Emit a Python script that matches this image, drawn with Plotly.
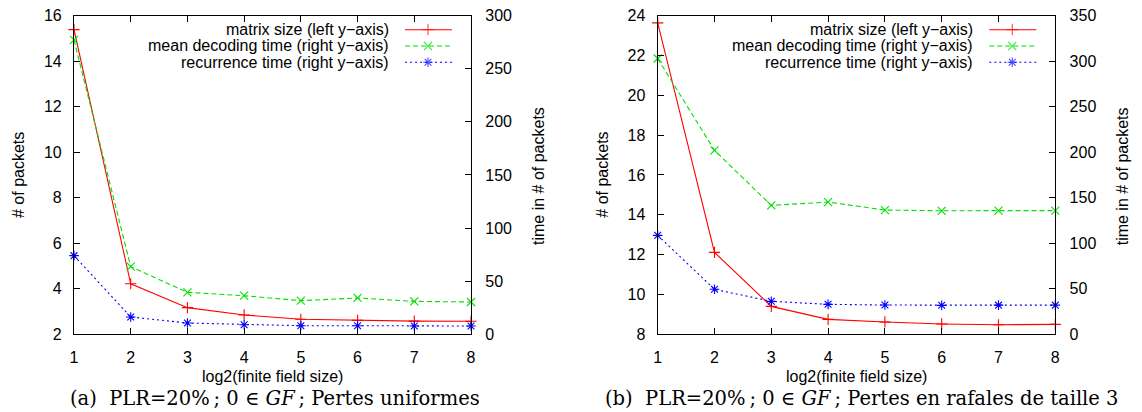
import plotly.graph_objects as go

# ---------------- data ----------------
x_vals = [1, 2, 3, 4, 5, 6, 7, 8]
x_ticks = [1, 2, 3, 4, 5, 6, 7, 8]

# panel (a): uniform losses
a_matrix = [15.38, 4.22, 3.17, 2.85, 2.66, 2.61, 2.58, 2.57]        # left axis
a_decoding = [277.0, 63.6, 39.5, 36.3, 31.6, 34.2, 31.0, 30.4]      # right axis
a_recurrence = [74.0, 16.3, 10.6, 9.0, 8.1, 8.1, 7.8, 7.8]          # right axis

# panel (b): burst losses of size 3
b_matrix = [23.63, 12.11, 9.40, 8.75, 8.62, 8.52, 8.48, 8.50]       # left axis
b_decoding = [302.8, 201.9, 141.5, 145.2, 136.4, 135.6, 135.8, 135.8]
b_recurrence = [108.6, 49.4, 36.2, 32.9, 32.1, 31.8, 32.0, 32.0]

series_names = ["matrix size (left y\u2212axis)",
                "mean decoding time (right y\u2212axis)",
                "recurrence time (right y\u2212axis)"]

captions = ["(a)\u00a0\u00a0PLR=20%\u2009;\u00a00 \u2208 <i>GF</i>\u2009; Pertes uniformes",
            "(b)\u00a0\u00a0PLR=20%\u2009;\u00a00 \u2208 <i>GF</i>\u2009; Pertes en rafales de taille 3"]

# ---------------- style ----------------
W, H = 1142, 412
RED, GREEN, BLUE = "#ff0000", "#00e000", "#0000ff"
styles = [
    dict(color=RED, dash="solid", symbol="cross-thin"),
    dict(color=GREEN, dash="5px,3px", symbol="x-thin"),
    dict(color=BLUE, dash="2px,3px", symbol="asterisk"),
]
SANS = "Liberation Sans, Arial, sans-serif"
SERIF = "DejaVu Serif, Liberation Serif, serif"
TXT = 16
TICK = 16

panels = [
    dict(xd=[74 / W, 471 / W], left=[2, 16], ldt=2, right=[0, 300], rdt=50,
         data=[a_matrix, a_decoding, a_recurrence], cap=captions[0], capx=68),
    dict(xd=[657.7 / W, 1055.3 / W], left=[8, 24], ldt=2, right=[0, 350], rdt=50,
         data=[b_matrix, b_decoding, b_recurrence], cap=captions[1], capx=603),
]
ydom = [77.7 / H, 396.5 / H]

fig = go.Figure()
layout = dict(width=W, height=H, margin=dict(l=0, r=0, t=0, b=0, autoexpand=False),
              plot_bgcolor="rgba(0,0,0,0)", paper_bgcolor="white", showlegend=False,
              font=dict(family=SANS, size=TXT, color="black"))
annotations = []

axis_common = dict(showgrid=False, zeroline=False, showline=True, linecolor="black",
                   linewidth=1.2, ticks="inside", ticklen=6, tickcolor="black",
                   automargin=False,
                   tickfont=dict(family=SANS, size=TICK, color="black"))

for i, p in enumerate(panels):
    xa = "x" if i == 0 else "x2"
    yl = "y" if i == 0 else "y3"
    yr = "y2" if i == 0 else "y4"
    xkey = "xaxis" if i == 0 else "xaxis2"
    ylkey = "yaxis" if i == 0 else "yaxis3"
    yrkey = "yaxis2" if i == 0 else "yaxis4"
    layout[xkey] = dict(axis_common, domain=p["xd"], range=[1, 8], tickvals=x_ticks,
                        anchor=yl, mirror="ticks", ticklabelstandoff=8)
    layout[ylkey] = dict(axis_common, domain=ydom, range=p["left"], dtick=p["ldt"],
                         anchor=xa, ticklabelstandoff=8)
    layout[yrkey] = dict(axis_common, domain=ydom, range=p["right"], dtick=p["rdt"],
                         anchor=xa, overlaying=yl, side="right", ticklabelstandoff=10)
    for k, (vals, st) in enumerate(zip(p["data"], styles)):
        fig.add_trace(go.Scatter(
            x=x_vals, y=vals, xaxis=xa, yaxis=(yl if k == 0 else yr),
            mode="lines+markers", name=series_names[k], cliponaxis=False,
            line=dict(color=st["color"], width=1.1, dash=st["dash"]),
            marker=dict(symbol=st["symbol"], size=8,
                        line=dict(color=st["color"], width=1.1), color=st["color"])))

    x0p, x1p = p["xd"][0] * W, p["xd"][1] * W
    # axis titles
    annotations.append(dict(text="# of packets", xref="paper", yref="paper",
                            x=(x0p - 56) / W, y=(H - 175) / H, textangle=-90,
                            xanchor="center", yanchor="middle",
                            showarrow=False, font=dict(size=TXT)))
    annotations.append(dict(text="time in # of packets", xref="paper", yref="paper",
                            x=(x1p + 67) / W, y=(H - 176) / H, textangle=-90,
                            xanchor="center", yanchor="middle",
                            showarrow=False, font=dict(size=TXT)))
    annotations.append(dict(text="log2(finite field size)", xref="paper", yref="paper",
                            x=(x0p + x1p) / 2 / W, y=(H - 376) / H, showarrow=False,
                            xanchor="center", yanchor="middle", font=dict(size=TXT)))
    annotations.append(dict(text=p["cap"], xref="paper", yref="paper",
                            x=p["capx"] / W, xanchor="left", y=(H - 398) / H,
                            yanchor="middle",
                            showarrow=False, font=dict(family=SERIF, size=19.5)))
    # legend (text on the left, sample on the right, as in gnuplot)
    rows = [29.7, 46.0, 62.3]
    for k, st in enumerate(styles):
        annotations.append(dict(text=series_names[k], xref="paper", yref="paper",
                                x=(x1p - 80) / W, xanchor="right", y=(H - rows[k]) / H,
                                yanchor="middle", showarrow=False, font=dict(size=TXT)))
        fig.add_trace(go.Scatter(
            x=[x1p - 66, x1p - 43, x1p - 19], y=[rows[k]] * 3, xaxis="x3", yaxis="y5",
            mode="lines+markers", showlegend=False, hoverinfo="skip",
            line=dict(color=st["color"], width=1.1, dash=st["dash"]),
            marker=dict(symbol=st["symbol"], size=[0, 8, 0],
                        line=dict(color=st["color"], width=1.1), color=st["color"])))

# hidden pixel-coordinate axes for the legend samples
layout["xaxis3"] = dict(domain=[0, 1], range=[0, W], visible=False, anchor="y5",
                        fixedrange=True, automargin=False)
layout["yaxis5"] = dict(domain=[0, 1], range=[H, 0], visible=False, anchor="x3",
                        fixedrange=True, automargin=False)
layout["annotations"] = annotations
fig.update_layout(**layout)
fig.write_html("out.html")
